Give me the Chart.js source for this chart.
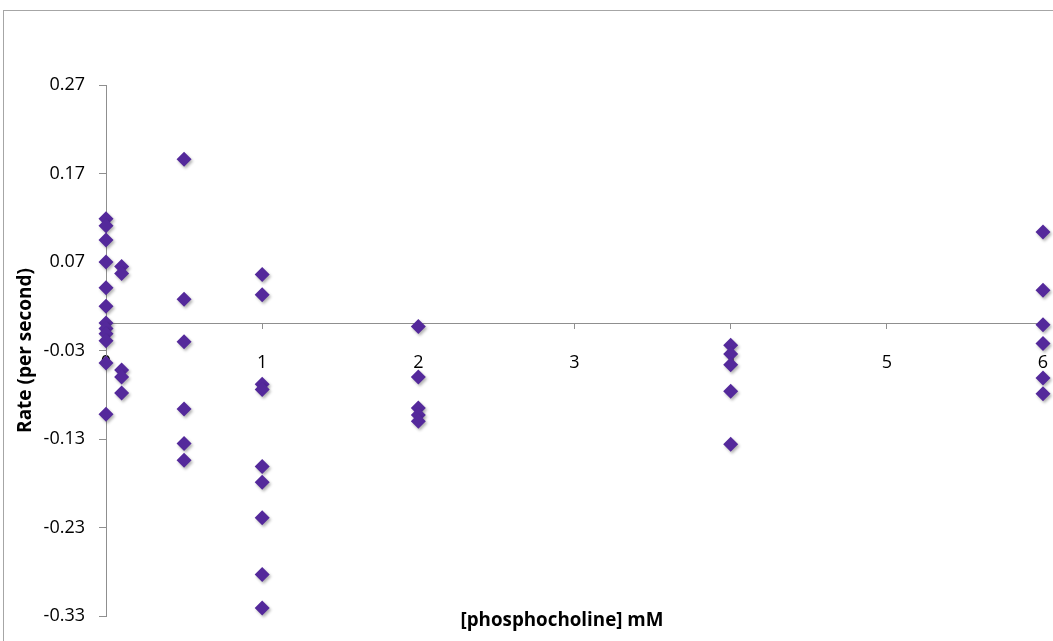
<!DOCTYPE html>
<html>
<head>
<meta charset="utf-8">
<script src="https://cdn.jsdelivr.net/npm/chart.js@4.4.1/dist/chart.umd.min.js"></script>
<style>
  html, body { margin: 0; padding: 0; background: #fff; }
  #wrap { position: relative; width: 1053px; height: 641px; overflow: hidden; }
  #frame { position: absolute; left: 3px; top: 10px; right: -5px; bottom: -5px;
           border-top: 1.5px solid #a6a6a6; border-left: 1.5px solid #a6a6a6; }
  canvas { position: absolute; left: 0; top: 0; }
</style>
</head>
<body>
<div id="wrap">
  <div id="frame"></div>
  <canvas id="chart" width="1053" height="641"></canvas>
</div>
<script>
// Rate vs [phosphocholine]

const xTicks = [0, 1, 2, 3, 4, 5, 6];
const yTicks = [-0.33, -0.23, -0.13, -0.03, 0.07, 0.17, 0.27];

// one array per concentration column (mM)
const rates0   = [0.119, 0.111, 0.095, 0.070, 0.041, 0.020, 0.001, -0.005, -0.011, -0.019, -0.044, -0.102];
const rates0_1 = [0.065, 0.057, -0.052, -0.060, -0.078];
const rates0_5 = [0.186, 0.028, -0.020, -0.096, -0.135, -0.154];
const rates1   = [0.056, 0.033, -0.068, -0.074, -0.161, -0.179, -0.219, -0.283, -0.321];
const rates2   = [-0.003, -0.060, -0.095, -0.103, -0.110];
const rates4   = [-0.024, -0.034, -0.046, -0.076, -0.136];
const rates6   = [0.104, 0.038, -0.001, -0.022, -0.061, -0.079];

const columns = [
    [0, rates0], [0.1, rates0_1], [0.5, rates0_5], [1, rates1],
    [2, rates2], [4, rates4], [6, rates6],
];

const points = [];
columns.forEach(([conc, rates]) => rates.forEach(r => points.push({ x: conc, y: r })));

const FONT   = '"Open Sans", "Liberation Sans", sans-serif';
const AXIS_C = '#8f8f8f';

// soft drop shadow under the diamonds, like the spreadsheet marker effect
const markerShadow = {
    id: 'markerShadow',
    beforeDatasetsDraw(chart) {
        const ctx = chart.ctx;
        ctx.save();
        ctx.shadowColor   = 'rgba(0,0,0,0.30)';
        ctx.shadowBlur    = 3;
        ctx.shadowOffsetX = 1.5;
        ctx.shadowOffsetY = 2;
    },
    afterDatasetsDraw(chart) { chart.ctx.restore(); },
};

// x title sits at the bottom of the frame, not under the crossing axis
const bottomTitle = {
    id: 'bottomTitle',
    afterDraw(chart) {
        const ctx = chart.ctx;
        ctx.save();
        ctx.font = 'bold 18.8px ' + FONT;
        ctx.fillStyle = '#000';
        ctx.textAlign = 'center';
        ctx.textBaseline = 'middle';
        ctx.fillText('[phosphocholine] mM', 562, 621);
        ctx.restore();
    },
};

new Chart(document.getElementById('chart'), {
    type: 'scatter',
    data: {
        datasets: [{
            data: points,
            pointStyle: 'rectRot',
            pointRadius: 7.5,
            pointHoverRadius: 7.5,
            pointBackgroundColor: '#54299b',
            pointBorderWidth: 0,
            clip: false,
        }],
    },
    options: {
        responsive: false,
        animation: false,
        layout: { padding: { top: 85, right: 10, bottom: 25, left: 0 } },
        plugins: { legend: { display: false }, tooltip: { enabled: false } },
        scales: {
            x: {
                type: 'linear',
                position: { y: 0 },
                min: 0, max: 6,
                afterBuildTicks: s => { s.ticks = xTicks.map(v => ({ value: v })); },
                afterFit: s => { s.paddingLeft = 0; s.paddingRight = 0; },
                ticks: {
                    color: '#000', padding: 23, maxRotation: 0,
                    font: { family: FONT, size: 18 },
                    callback: v => String(v),
                },
                grid: { display: true, drawOnChartArea: false, tickLength: 5, color: AXIS_C },
                border: { color: AXIS_C, width: 1 },
            },
            y: {
                type: 'linear',
                min: -0.33, max: 0.27,
                afterBuildTicks: s => { s.ticks = yTicks.map(v => ({ value: v })); },
                afterFit: s => { s.width = 106; },
                ticks: {
                    color: '#000', padding: 14,
                    font: { family: FONT, size: 18 },
                    callback: v => v.toFixed(2),
                },
                grid: { display: true, drawOnChartArea: false, tickLength: 7, color: AXIS_C },
                border: { color: AXIS_C, width: 1 },
                title: {
                    display: true,
                    text: 'Rate (per second)',
                    color: '#000',
                    font: { family: FONT, size: 19, weight: 'bold' },
                    padding: { top: 14, bottom: 0 },
                },
            },
        },
    },
    plugins: [markerShadow, bottomTitle],
});
</script>
</body>
</html>
